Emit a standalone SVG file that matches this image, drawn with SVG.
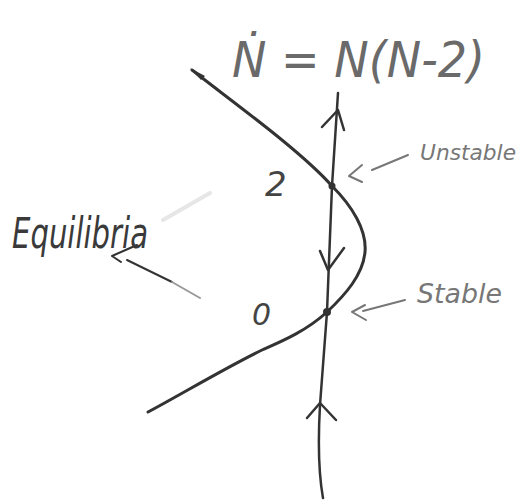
<svg xmlns="http://www.w3.org/2000/svg" width="523" height="500" viewBox="0 0 523 500">
<style>
.ink{fill:none;stroke:#333;stroke-linecap:round;stroke-linejoin:round}
.pen{fill:none;stroke:#777;stroke-width:2;stroke-linecap:round;stroke-linejoin:round}
.hand{font-family:"DejaVu Sans","Liberation Sans",sans-serif;font-style:italic;font-weight:normal}
</style>
<rect width="523" height="500" fill="#fff"/>
<g id="title">
<text class="hand" x="232" y="77" font-size="50" fill="#6a6a6a" textLength="253" lengthAdjust="spacingAndGlyphs">Ṅ = N(N-2)</text>
</g>
<g id="curve">
<path class="ink" stroke-width="3" d="M192,70 C230,100 300,150 332,186 C352,206 367,230 365,252 C363,275 345,295 327,312 C305,332 280,342 262,350 C225,368 180,395 148,412"/>
<path d="M190,68 L205,76 L201,80 Z" fill="#333"/>
</g>
<g id="connectors">
<path class="ink" stroke-width="2.5" d="M338,93 L332,186 L327,312 L320,405 C318,440 318,470 323,498"/>
<path class="ink" stroke-width="2.5" d="M322,127 L338,110 L344,130"/>
<path class="ink" stroke-width="2.5" d="M320,251 L328,270 L344,248"/>
<path class="ink" stroke-width="2.5" d="M307,418 L320,403 L336,420"/>
<path class="pen" d="M362,165 L349,176 L362,182 M372,170 L408,155"/>
<path class="pen" d="M365,305 L352,312 L366,320 M363,311 L405,300"/>
<path class="ink" stroke-width="2" d="M137,245 L112,256 L121,262 M127,260 L172,282"/>
<path fill="none" stroke="#999" stroke-width="2" stroke-linecap="round" d="M172,282 L200,298"/>
<path fill="none" stroke="#e6e6e6" stroke-width="4" stroke-linecap="round" d="M163,220 L210,193"/>
</g>
<g id="unstable-point">
<circle cx="332" cy="186" r="3.5" fill="#333"/>
<text class="hand" x="265" y="196" font-size="34" fill="#444">2</text>
</g>
<g id="stable-point">
<circle cx="327" cy="312" r="4" fill="#333"/>
<text class="hand" x="252" y="325" font-size="30" fill="#444">0</text>
</g>
<g id="label-unstable">
<text class="hand" x="420" y="160" font-size="22" fill="#777" textLength="96" lengthAdjust="spacingAndGlyphs">Unstable</text>
</g>
<g id="label-stable">
<text class="hand" x="417" y="303" font-size="26" fill="#777" textLength="85" lengthAdjust="spacingAndGlyphs">Stable</text>
</g>
<g id="label-equilibria">
<text class="hand" x="12" y="248" font-size="42" fill="#3a3a3a" textLength="136" lengthAdjust="spacingAndGlyphs">Equilibria</text>
</g>
</svg>
